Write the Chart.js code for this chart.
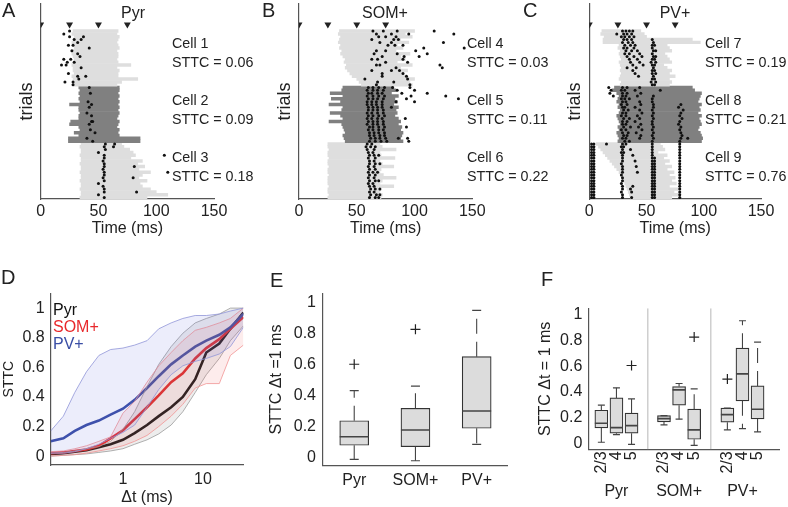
<!DOCTYPE html>
<html lang="en">
<head>
<meta charset="UTF-8">
<title>STTC figure</title>
<script src="https://cdn.jsdelivr.net/npm/chart.js"></script>
<style>
  body { margin: 0; background: #fff; font-family: 'Liberation Sans', Arial, sans-serif; color: #222; }
  #fig { position: relative; width: 788px; height: 507px; overflow: hidden; }
  canvas { position: absolute; }
  .txt { position: absolute; font-size: 14.3px; line-height: 19px; white-space: nowrap; }
  .ttl { position: absolute; font-size: 16px; line-height: 17px; width: 80px; text-align: center; }
  .letter { position: absolute; font-size: 20px; line-height: 20px; }
  .leg { position: absolute; font-size: 16px; line-height: 17px; }
</style>
</head>
<body>
<div id="fig">
  <canvas id="rasterA" width="262" height="245" style="left:0;top:0"></canvas>
  <canvas id="rasterB" width="302" height="245" style="left:258px;top:0"></canvas>
  <canvas id="rasterC" width="240" height="245" style="left:548px;top:0"></canvas>
  <canvas id="curveD" width="262" height="252" style="left:0;top:255px"></canvas>
  <canvas id="boxE" width="262" height="252" style="left:262px;top:255px"></canvas>
  <canvas id="boxF" width="264" height="252" style="left:524px;top:255px"></canvas>

  <div class="letter" style="left:2px;top:0">A</div>
  <div class="letter" style="left:262px;top:0">B</div>
  <div class="letter" style="left:523px;top:0">C</div>
  <div class="letter" style="left:1px;top:267px">D</div>
  <div class="letter" style="left:270px;top:270px">E</div>
  <div class="letter" style="left:541px;top:269px">F</div>

  <div class="ttl" style="left:93px;top:4px">Pyr</div>
  <div class="ttl" style="left:345px;top:4px">SOM+</div>
  <div class="ttl" style="left:635px;top:4px">PV+</div>

  <div class="txt" style="left:172px;top:34px">Cell 1<br>STTC = 0.06</div>
  <div class="txt" style="left:172px;top:91px">Cell 2<br>STTC = 0.09</div>
  <div class="txt" style="left:172px;top:148px">Cell 3<br>STTC = 0.18</div>
  <div class="txt" style="left:467px;top:34px">Cell 4<br>STTC = 0.03</div>
  <div class="txt" style="left:467px;top:91px">Cell 5<br>STTC = 0.11</div>
  <div class="txt" style="left:467px;top:148px">Cell 6<br>STTC = 0.22</div>
  <div class="txt" style="left:705px;top:34px">Cell 7<br>STTC = 0.19</div>
  <div class="txt" style="left:705px;top:91px">Cell 8<br>STTC = 0.21</div>
  <div class="txt" style="left:705px;top:148px">Cell 9<br>STTC = 0.76</div>

  <div class="leg" style="left:53px;top:301px;color:#111">Pyr</div>
  <div class="leg" style="left:53px;top:318px;color:#e8282b">SOM+</div>
  <div class="leg" style="left:53px;top:335px;color:#3a4ea5">PV+</div>
</div>

<script>
// ---- raster data (A-C): one gray bar per trial plus spike times, 20 trials per cell ----
const stimTimes = [0, 25, 50, 75];
const timeTicks = [0, 50, 100, 150];
const cellSizes = [20, 20, 20];

const pyrStarts = [
  28,27,29,28,27,28,29,28,27,28,29,28,27,28,28,29,27,28,28,29,
  33,34,33,34,33,34,25,33,33,34,33,33,26,25,33,34,29,33,24,24,
  35,34,35,35,34,35,35,34,35,35,34,35,35,34,35,35,34,35,35,34];
const pyrEnds = [
  67,66,68,67,66,67,68,66,67,67,66,67,78,66,68,67,67,84,70,66,
  68,68,67,68,67,68,67,68,67,68,67,66,68,67,66,68,67,68,86,86,
  70,72,77,80,82,78,88,84,90,85,95,88,85,92,86,88,95,100,110,92];
const pyrSpikes = [
  [25],[20],[25,37],[29,35],[32],[24,28],[42],[27],[32],[34],
  [20,26],[23,29],[18,22],[35],[],[24],[32,39],[33],[21,28],[28],
  [42],[],[43],[],[],[41],[44],[42],[],[40],
  [44],[],[44,45],[42],[],[43],[47],[],[40],[45],
  [56,64],[55,63],[56],[50],[55,107],[55],[54],[55],[55,81],[54],
  [55,110],[55],[54,80],[55],[50],[54],[55],[55,83],[50],[55]];

const somStarts = [
  35,34,36,35,34,36,35,37,36,38,40,39,41,40,42,44,46,50,52,54,
  38,37,27,38,28,36,26,38,37,27,36,38,26,37,38,39,40,38,39,40,
  25,25,26,25,25,26,25,25,26,25,25,26,25,25,25,26,25,25,26,25];
const somEnds = [
  100,92,98,88,95,85,90,84,96,88,92,85,98,88,94,90,92,100,96,98,
  82,84,80,86,83,85,82,86,84,85,83,86,88,86,89,88,90,89,88,90,
  70,72,84,70,71,83,70,72,82,71,70,73,84,72,70,82,71,70,72,71];
const somSpikes = [
  [64,73,85,117],[67,80,95,134],[69,75,84],[63,82,86],[70,80,125],
  [77,83,90],[108,143],[67,75,101],[65,85,111],[72,91,104],
  [63,68,90],[75,94],[67,70,122],[84,124],[63,80,87],
  [72,90],[72,93],[57,94],[68,82],[67,96],
  [60,64,69,74,81,96],[59,64,68,73,85,100],[60,63,68,72,89,111],[59,64,69,74,97,127],[60,64,68,73,93,138],
  [59,63,67,72,84,100],[59,63,67,72],[60,64,68,72,80],[60,64,68,73],[59,63,68,73],
  [60,64,69,74],[59,63,68,72,92],[60,64,68,73],[59,64,68,73],[61,64,69,74,93],
  [60,64,69,73],[61,65,69,74],[61,65,70,74],[62,66,70,75,86,94],[61,66,71,76,95],
  [59,63],[58,62,66],[59,65],[60,64],[61,65,69],[60,66],[61,65],[61,66,70],[60,65],[61,66],
  [60,64,68],[61,66],[60,65],[61,66,69],[60,64],[61,65],[62,66,70],[61,65],[62,67,70],[61,66,69]];

const pvStarts = [
  11,10,13,12,12,26,25,27,26,27,28,26,27,28,27,28,27,26,28,27,
  22,20,24,26,25,24,26,25,27,26,24,25,26,27,25,26,24,25,26,25,
  6,8,10,12,14,16,18,20,22,24,26,28,29,30,31,32,33,34,35,36];
const pvEnds = [
  45,48,50,90,97,68,70,72,66,68,70,72,65,68,72,70,75,70,72,70,
  90,92,98,97,96,95,98,96,97,95,98,96,97,98,96,95,97,98,99,98,
  62,64,66,60,68,65,70,66,72,68,74,70,75,72,76,70,78,74,80,72];
const pvSpikes = [
  [29,32,35,38],[24,30,33,37],[28,31,35,39],[30,33,37,55],[29,34,38,56],
  [31,36,40,55,57],[30,33,39,55],[32,37,42,56,58],[31,35,44,55],[33,39,46,56,58],
  [35,42,55,57],[36,44,54,58],[38,47,55,57],[33,41,56],[38,55,57],
  [40,55,58],[43,56],[55,57],[54,58],[55,57],
  [17,29,33,44],[19,28,31,40,62],[18,29,33,45],[21,29,32,42,56],[28,31,35,55],
  [29,32,44,55],[28,33,45,56,80],[29,31,40,56,78],[30,34,44,55,82],[29,32,46,56,80],
  [28,32,42,55,79],[30,35,44,56,81],[29,33,40,55,79],[29,32,45,55,78],[30,36,43,56,80],
  [28,32,46,55,79],[29,34,41,56,80],[30,33,45,55,81],[29,32,44,56,80,86],[31,35,55,79],
  [2,4,15,29,32,55,79],[2,4,28,30,55,79],[2,4,29,36,55,79],[2,4,28,30,55,79],[2,4,29,38,55,79],
  [2,4,29,55,57,79],[2,4,29,40,55,57,79],[2,4,28,55,57,79],[2,4,29,41,55,57,79],[2,4,29,55,57,79],
  [2,4,29,42,55,57,79],[2,4,28,55,57,79],[2,4,29,55,57,79],[2,4,29,55,57,79],[2,4,28,55,57,79],
  [2,4,29,38,55,57,79],[2,4,29,36,55,57,79],[2,4,28,37,55,57,79],[2,4,29,55,57,79],[2,4,29,37,55,57,79]];

// ---- D: STTC vs delta t, mean and spread per class ----
const dtVals   = [0.125,0.18,0.25,0.35,0.5,0.7,1,1.4,2,2.8,4,5.6,8,11,16,22,32];
const pyrMean  = [0.015,0.02,0.03,0.04,0.06,0.08,0.11,0.155,0.21,0.27,0.33,0.40,0.52,0.70,0.76,0.86,0.97];
const pyrUpper = [0.02,0.025,0.035,0.05,0.065,0.10,0.18,0.30,0.47,0.62,0.74,0.83,0.90,0.93,0.96,1.0,1.0];
const pyrLower = [0.0,0.005,0.01,0.015,0.025,0.035,0.05,0.08,0.11,0.15,0.21,0.30,0.43,0.55,0.66,0.78,0.88];
const somMean  = [0.02,0.025,0.035,0.045,0.07,0.12,0.175,0.25,0.33,0.41,0.50,0.56,0.66,0.73,0.79,0.86,0.94];
const somUpper = [0.03,0.035,0.05,0.07,0.10,0.13,0.29,0.37,0.50,0.61,0.70,0.78,0.85,0.87,0.90,0.93,1.0];
const somLower = [0.0,0.005,0.01,0.02,0.035,0.05,0.07,0.10,0.14,0.20,0.27,0.35,0.46,0.49,0.49,0.68,0.75];
const pvMean   = [0.10,0.12,0.17,0.21,0.24,0.28,0.32,0.38,0.46,0.54,0.62,0.68,0.74,0.78,0.82,0.87,0.96];
const pvUpper  = [0.17,0.27,0.43,0.57,0.68,0.72,0.73,0.75,0.78,0.86,0.90,0.93,0.95,0.95,0.96,0.98,1.0];
const pvLower  = [0.02,0.02,0.03,0.05,0.08,0.12,0.16,0.21,0.33,0.45,0.55,0.61,0.64,0.66,0.69,0.74,0.87];
const dTicks = [1, 10];
const sttcTicks = [0, 0.2, 0.4, 0.6, 0.8, 1];

// ---- E: STTC at 1 ms per class ----
const eGroups = ['Pyr', 'SOM+', 'PV+'];
const ePos  = [1, 2, 3];
const eLow  = [-0.013, -0.022, 0.084];
const eQ1   = [0.078, 0.069, 0.188];
const eMed  = [0.133, 0.177, 0.300];
const eQ3   = [0.237, 0.317, 0.651];
const eHigh = [0.431, 0.461, 0.950];
const eOutIdx = [0, 1];
const eOutVal = [0.602, 0.828];

// ---- F: same split by layer ----
const fGroups = ['Pyr', 'SOM+', 'PV+'];
const fLayers = ['2/3', '4', '5'];
const fPos  = [1, 2, 3, 5.15, 6.15, 7.15, 9.35, 10.35, 11.35];
const fLow  = [0.008, 0.067, -0.008, 0.143, 0.187, -0.016, 0.104, 0.114, 0.088];
const fQ1   = [0.119, 0.078, 0.078, 0.166, 0.296, 0.031, 0.164, 0.330, 0.189];
const fMed  = [0.156, 0.122, 0.137, 0.192, 0.415, 0.104, 0.223, 0.540, 0.265];
const fQ3   = [0.257, 0.353, 0.234, 0.215, 0.441, 0.265, 0.273, 0.740, 0.446];
const fHigh = [0.296, 0.431, 0.345, 0.215, 0.465, 0.423, 0.273, 0.953, 0.787];
const fOutIdx = [2, 5, 6];
const fOutVal = [0.605, 0.826, 0.499];

Chart.defaults.font.family = "'Liberation Sans', Arial, sans-serif";
Chart.defaults.font.size = 16;
Chart.defaults.color = '#222';
Chart.defaults.animation = false;
Chart.defaults.events = [];
Chart.defaults.plugins.legend.display = false;
Chart.defaults.plugins.tooltip.enabled = false;

const AXIS = '#555';
const MARK_ROW = -1.8;   // row position of the stimulus triangles

function fixedTicks(values) {
  return s => { s.ticks = values.map(v => ({ value: v })); };
}

function makeRaster(id, starts, ends, spikes, shades, yWidth, padRight) {
  const datasets = [];
  let row = 0;
  cellSizes.forEach((n, c) => {
    const data = [];
    for (let k = 0; k < n; k++, row++) data.push({ x: [starts[row], ends[row]], y: row + 0.5 });
    datasets.push({
      type: 'bar', indexAxis: 'y', data, backgroundColor: shades[c], borderWidth: 0,
      grouped: false, barPercentage: 1, categoryPercentage: 1, order: 3
    });
  });
  const pts = [];
  spikes.forEach((times, r) => times.forEach(t => pts.push({ x: t, y: r + 0.5 })));
  datasets.push({ type: 'scatter', data: pts, pointRadius: 1.5, backgroundColor: '#111', borderWidth: 0, order: 1 });
  datasets.push({
    type: 'scatter', data: stimTimes.map(t => ({ x: t, y: MARK_ROW })),
    pointStyle: 'triangle', rotation: 180, pointRadius: 4, backgroundColor: '#222', borderWidth: 0, order: 1
  });

  return new Chart(document.getElementById(id), {
    type: 'scatter',
    data: { datasets },
    options: {
      responsive: false,
      layout: { padding: { top: 2, left: 0, right: padRight, bottom: 0 } },
      scales: {
        x: {
          type: 'linear', min: 0, max: 150, offset: false,
          grid: { display: false, drawTicks: false },
          border: { color: AXIS, width: 1.2 },
          afterBuildTicks: fixedTicks(timeTicks),
          ticks: { padding: 3, maxRotation: 0, autoSkip: false },
          title: { display: true, text: 'Time (ms)', padding: { top: 0, bottom: 7 } },
          afterFit: s => { s.height = 46; }
        },
        y: {
          type: 'linear', reverse: true, min: -9.1, max: 60, offset: false,
          grid: { display: false, drawTicks: false },
          border: { color: AXIS, width: 1.2 },
          ticks: { display: false },
          title: { display: true, text: 'trials', font: { size: 18 }, padding: { top: 16, bottom: 0 } },
          afterFit: s => { s.width = yWidth; }
        }
      }
    }
  });
}

makeRaster('rasterA', pyrStarts, pyrEnds, pyrSpikes, ['#dedede', '#808080', '#dedede'], 40.7, 48);
makeRaster('rasterB', somStarts, somEnds, somSpikes, ['#dedede', '#808080', '#dedede'], 41, 87.7);
makeRaster('rasterC', pvStarts, pvEnds, pvSpikes, ['#dedede', '#808080', '#dedede'], 41.3, 27);

// ---- D ----
const xy = vals => dtVals.map((t, i) => ({ x: t, y: vals[i] }));
const bandLine = (vals, color) => ({ data: xy(vals), borderColor: color, borderWidth: 0.8, pointRadius: 0, fill: false });
const bandFill = (vals, color, bg) => ({ data: xy(vals), borderColor: color, borderWidth: 0.8, pointRadius: 0, fill: '-1', backgroundColor: bg });
const meanLine = (vals, color) => ({ data: xy(vals), borderColor: color, borderWidth: 2.6, pointRadius: 0, fill: false });

new Chart(document.getElementById('curveD'), {
  type: 'line',
  data: {
    datasets: [
      bandLine(pvLower, '#9196d8'), bandFill(pvUpper, '#9196d8', 'rgba(95,105,220,0.12)'),
      bandLine(somLower, '#f19494'), bandFill(somUpper, '#f19494', 'rgba(235,95,95,0.12)'),
      bandLine(pyrLower, '#9c9c9c'), bandFill(pyrUpper, '#9c9c9c', 'rgba(110,110,110,0.12)'),
      meanLine(pvMean, '#3a4ea5'), meanLine(somMean, '#e8282b'), meanLine(pyrMean, '#111')
    ]
  },
  options: {
    responsive: false,
    layout: { padding: { top: 38.3, left: 0, right: 18.6, bottom: 0 } },
    scales: {
      x: {
        type: 'logarithmic', min: 0.125, max: 32, offset: false,
        grid: { display: false, drawTicks: false },
        border: { color: AXIS, width: 1.2 },
        afterBuildTicks: fixedTicks(dTicks),
        ticks: { padding: 5, maxRotation: 0, autoSkip: false, callback: v => String(v) },
        title: { display: true, text: 'Δt (ms)', padding: { top: 0, bottom: 0 } },
        afterFit: s => { s.height = 42; }
      },
      y: {
        type: 'linear', min: -0.06, max: 1.1, offset: false,
        grid: { display: false, drawTicks: false },
        border: { color: AXIS, width: 1.2 },
        afterBuildTicks: fixedTicks(sttcTicks),
        ticks: { padding: 6, callback: v => String(v) },
        title: { display: true, text: 'STTC', font: { size: 14 }, padding: { top: 1, bottom: 0 } },
        afterFit: s => { s.width = 50.7; }
      }
    }
  }
});

// ---- E and F box plots ----
function makeBoxes(id, pos, lo, q1, med, q3, hi, outIdx, outVal, o) {
  const whisk = (a, b) => {
    const d = [];
    pos.forEach((x, i) => d.push({ x, y: a[i] }, { x, y: b[i] }, { x, y: null }));
    return d;
  };
  const datasets = [
    { type: 'bar', data: pos.map((x, i) => ({ x, y: [q1[i], q3[i]] })), backgroundColor: '#dcdcdc',
      borderColor: '#333', borderWidth: 1.2, borderSkipped: false, barThickness: o.boxW, order: 3 },
    { type: 'line', data: whisk(q3, hi), borderColor: '#444', borderWidth: 1.1, borderDash: [15, 8],
      pointRadius: 0, spanGaps: false, order: 2 },
    { type: 'line', data: whisk(q1, lo), borderColor: '#444', borderWidth: 1.1, borderDash: [15, 8],
      pointRadius: 0, spanGaps: false, order: 2 },
    { type: 'scatter', data: pos.map((x, i) => ({ x, y: lo[i] })).concat(pos.map((x, i) => ({ x, y: hi[i] }))),
      pointStyle: 'line', pointRadius: o.capR, borderColor: '#444', borderWidth: 1.2, order: 1 },
    { type: 'scatter', data: pos.map((x, i) => ({ x, y: med[i] })),
      pointStyle: 'line', pointRadius: o.boxW / 2, borderColor: '#444', borderWidth: 1.6, order: 1 },
    { type: 'scatter', data: outIdx.map((k, j) => ({ x: pos[k], y: outVal[j] })),
      pointStyle: 'cross', pointRadius: 5, borderColor: '#222', borderWidth: 1.2, order: 1 }
  ];
  if (o.dividers) {
    const d = [];
    o.dividers.forEach(x => d.push({ x, y: o.yMin }, { x, y: o.yMax }, { x, y: null }));
    datasets.push({ type: 'line', data: d, borderColor: '#cfcfcf', borderWidth: 1.5, pointRadius: 0, spanGaps: false, order: 4 });
  }
  const scales = {
    x: {
      type: 'linear', min: o.xMin, max: o.xMax, offset: false, weight: 0,
      grid: { display: false, drawTicks: false },
      border: { color: AXIS, width: 1.2 },
      afterBuildTicks: fixedTicks(pos),
      ticks: { autoSkip: false, padding: o.xPad, minRotation: o.rot, maxRotation: o.rot, callback: (v, i) => o.labels[i] },
      afterFit: s => { s.height = o.xH; }
    },
    y: {
      type: 'linear', min: o.yMin, max: o.yMax, offset: false,
      grid: { display: false, drawTicks: false },
      border: { color: AXIS, width: 1.2 },
      afterBuildTicks: fixedTicks(sttcTicks),
      ticks: { padding: o.yPad, callback: v => String(v) },
      title: { display: true, text: o.yTitle, padding: { top: o.yTitlePad, bottom: 0 } },
      afterFit: s => { s.width = o.yW; }
    }
  };
  if (o.groupPos) {
    scales.x2 = {
      type: 'linear', position: 'bottom', weight: 1, min: o.xMin, max: o.xMax, offset: false,
      grid: { display: false, drawTicks: false },
      border: { display: false },
      afterBuildTicks: fixedTicks(o.groupPos),
      ticks: { autoSkip: false, padding: 3, maxRotation: 0, callback: (v, i) => o.groups[i] },
      afterFit: s => { s.height = o.x2H; }
    };
  }
  return new Chart(document.getElementById(id), {
    type: 'scatter',
    data: { datasets },
    options: {
      responsive: false,
      layout: { padding: { top: o.padTop, left: 0, right: o.padRight, bottom: 0 } },
      scales
    }
  });
}

makeBoxes('boxE', ePos, eLow, eQ1, eMed, eQ3, eHigh, eOutIdx, eOutVal, {
  boxW: 29, capR: 4.5, xMin: 0.49, xMax: 3.51, yMin: -0.054, yMax: 1.061,
  labels: eGroups, rot: 0, xPad: 5, xH: 41.3, yPad: 7, yW: 61,
  yTitle: 'STTC Δt =1 ms', yTitlePad: 5, padTop: 38.3, padRight: 12.3
});

const fLabels = fGroups.flatMap(() => fLayers);
const fGroupPos = [0, 1, 2].map(g => fPos[g * 3 + 1]);
const fDividers = [(fPos[2] + fPos[3]) / 2, (fPos[5] + fPos[6]) / 2];
makeBoxes('boxF', fPos, fLow, fQ1, fMed, fQ3, fHigh, fOutIdx, fOutVal, {
  boxW: 13, capR: 3.5, xMin: 0.135, xMax: 12.83, yMin: -0.047, yMax: 1.05,
  labels: fLabels, rot: 90, xPad: 2, xH: 30, yPad: 6, yW: 64.3,
  groups: fGroups, groupPos: fGroupPos, x2H: 27.7, dividers: fDividers,
  yTitle: 'STTC Δt = 1 ms', yTitlePad: 12, padTop: 53.3, padRight: 3
});
</script>
</body>
</html>
